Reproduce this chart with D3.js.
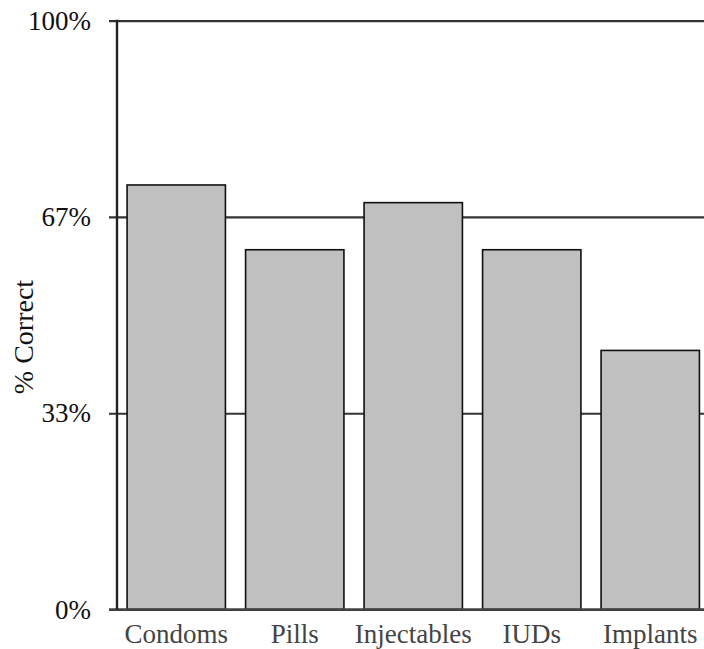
<!DOCTYPE html>
<html>
<head>
<meta charset="utf-8">
<script src="https://cdn.jsdelivr.net/npm/d3@7"></script>
<style>
  body { margin: 0; background: #fff; overflow: hidden; }
  svg { display: block; font-family: 'Liberation Serif', 'Times New Roman', serif; }
</style>
</head>
<body>
<div id="chart"></div>
<script>
const categories = ['Condoms', 'Pills', 'Injectables', 'IUDs', 'Implants']
const pctCorrect = [0.721, 0.611, 0.691, 0.611, 0.44]
const tickValues = [0, 1 / 3, 2 / 3, 1]
const tickLabels = ['0%', '33%', '67%', '100%']

const svgWidth = 704,
  svgHeight = 649
const margin = { top: 20.7, right: -5.5, bottom: 39.5, left: 117 }
const width = svgWidth - margin.left - margin.right
const height = svgHeight - margin.top - margin.bottom

const svg = d3
  .select('#chart')
  .append('svg')
  .attr('width', svgWidth)
  .attr('height', svgHeight)

const g = svg
  .append('g')
  .attr('transform', `translate(${margin.left}, ${margin.top})`)

const x = d3
  .scaleBand()
  .domain(categories)
  .range([0, width])
  .paddingInner(0.17)
  .paddingOuter(0.085)

const y = d3.scaleLinear().domain([0, 1]).range([height, 0])

// grid lines + tick marks (drawn under the bars)
g.append('g')
  .attr('class', 'y-axis')
  .call(
    d3
      .axisLeft(y)
      .tickValues(tickValues)
      .tickFormat((d, i) => tickLabels[i])
      .tickSize(-(width + 8))
      .tickPadding(26),
  )
  .call(g => g.select('.domain').remove())
  .call(g =>
    g
      .selectAll('.tick line')
      .attr('x1', -8)
      .attr('stroke', '#333')
      .attr('stroke-width', 2.2),
  )
  .call(g =>
    g
      .selectAll('.tick text')
      .attr('fill', '#111')
      .style('font-size', '27px')
      .style('font-family', 'Liberation Serif'),
  )

// bars
g.selectAll('.bar')
  .data(categories)
  .enter()
  .append('rect')
  .attr('class', 'bar')
  .attr('x', d => x(d))
  .attr('width', x.bandwidth())
  .attr('y', (d, i) => y(pctCorrect[i]))
  .attr('height', (d, i) => height - y(pctCorrect[i]))
  .attr('fill', '#c0c0c0')
  .attr('stroke', '#111')
  .attr('stroke-width', 1.6)

// baseline
g.append('line')
  .attr('x1', -8)
  .attr('x2', width)
  .attr('y1', y(0))
  .attr('y2', y(0))
  .attr('stroke', '#444')
  .attr('stroke-width', 2.4)

// left axis line
g.append('line')
  .attr('x1', 0)
  .attr('x2', 0)
  .attr('y1', y(1) - 1)
  .attr('y2', y(0))
  .attr('stroke', '#222')
  .attr('stroke-width', 2.4)

// category labels
g.append('g')
  .attr('transform', `translate(0, ${height})`)
  .call(d3.axisBottom(x).tickSize(0).tickPadding(14))
  .call(g => g.select('.domain').remove())
  .call(g =>
    g
      .selectAll('.tick text')
      .attr('fill', '#444')
      .style('font-size', '27px')
      .style('font-family', 'Liberation Serif'),
  )

// y title
svg
  .append('text')
  .attr('transform', `translate(33, 337) rotate(-90)`)
  .attr('text-anchor', 'middle')
  .attr('fill', '#111')
  .style('font-size', '28px')
  .text('% Correct')
</script>
</body>
</html>
